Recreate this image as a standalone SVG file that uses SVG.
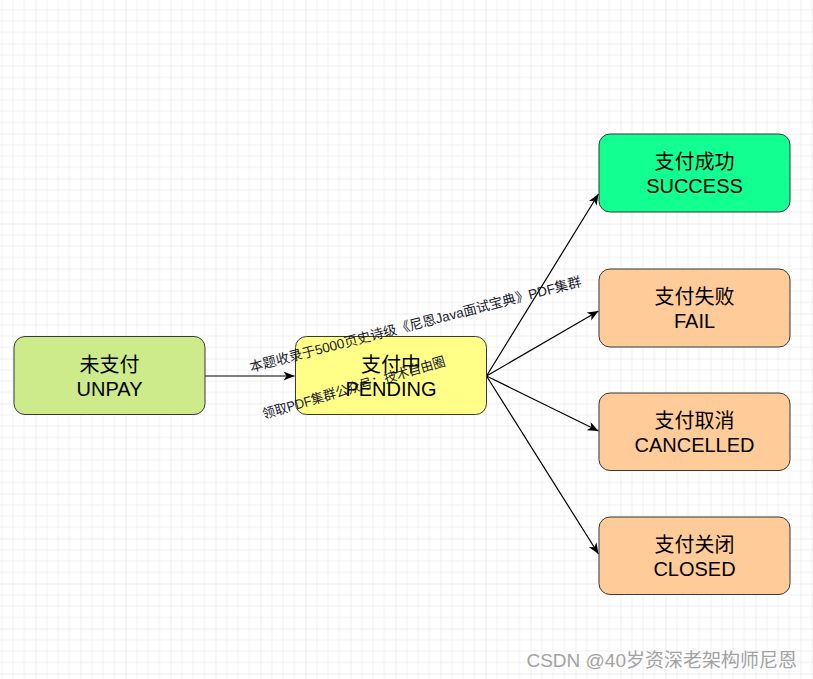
<svg xmlns="http://www.w3.org/2000/svg" width="813" height="679" viewBox="0 0 813 679">
<defs>
<pattern id="grid" patternUnits="userSpaceOnUse" x="-9.5" y="-1.5" width="45" height="45">
<path d="M11.25 0V45M22.5 0V45M33.75 0V45M0 11.25H45M0 22.5H45M0 33.75H45" stroke="#f0f0f0" stroke-width="1" fill="none"/>
<path d="M0 0V45M0 0H45" stroke="#dedede" stroke-width="1" fill="none"/>
</pattern>
<marker id="arr" markerUnits="userSpaceOnUse" markerWidth="12" markerHeight="10" refX="11" refY="4.5" orient="auto">
<path d="M0,0 L11,4.5 L0,9 L3,4.5 Z" fill="#000"/>
</marker>
</defs>
<style>
.node rect{stroke:#36393d;stroke-width:1}
.node text{font-family:"Liberation Sans","Noto Sans CJK SC",sans-serif;font-size:20px;fill:#000;text-anchor:middle}
.edge{stroke:#000;stroke-width:1.2;fill:none;marker-end:url(#arr)}
.wm{font-family:"Liberation Sans","Noto Sans CJK SC",sans-serif;font-size:13.5px;fill:#1a1a2e}
</style>
<rect width="813" height="679" fill="#fff"/>
<rect width="813" height="679" fill="url(#grid)"/>
<g id="connectors">
<path class="edge" d="M205 376H294.5"/>
<path class="edge" d="M486.5 376L598.5 194"/>
<path class="edge" d="M486.5 376L598.5 311"/>
<path class="edge" d="M486.5 376L598.5 431"/>
<path class="edge" d="M486.5 376L598.5 554"/>
</g>
<g id="unpay" class="node">
<rect x="14" y="336.5" width="191" height="78" rx="11" fill="#cdeb8b"/>
<text x="109.5" y="372">未支付</text>
<text x="109.5" y="396">UNPAY</text>
</g>
<g id="pending" class="node">
<rect x="295.5" y="336.5" width="191" height="78" rx="11" fill="#ffff88"/>
<text x="391" y="372">支付中</text>
<text x="391" y="396">PENDING</text>
</g>
<g id="success" class="node">
<rect x="599" y="134" width="191" height="78" rx="11" fill="#12ff92"/>
<text x="694.5" y="169">支付成功</text>
<text x="694.5" y="193">SUCCESS</text>
</g>
<g id="fail" class="node">
<rect x="599" y="269" width="191" height="78" rx="11" fill="#ffcc99"/>
<text x="694.5" y="304">支付失败</text>
<text x="694.5" y="328">FAIL</text>
</g>
<g id="cancelled" class="node">
<rect x="599" y="393" width="191" height="77.5" rx="11" fill="#ffcc99"/>
<text x="694.5" y="428">支付取消</text>
<text x="694.5" y="452">CANCELLED</text>
</g>
<g id="closed" class="node">
<rect x="599" y="517" width="191" height="77.5" rx="11" fill="#ffcc99"/>
<text x="694.5" y="552">支付关闭</text>
<text x="694.5" y="576">CLOSED</text>
</g>
<text class="wm" transform="translate(251 372) rotate(-14.6)">本题收录于5000页史诗级《尼恩Java面试宝典》PDF集群</text>
<text class="wm" transform="translate(264 419) rotate(-16.4)" textLength="190" lengthAdjust="spacingAndGlyphs">领取PDF集群公众号：技术自由圈</text>
<text x="797" y="667" text-anchor="end" style="font-family:'Liberation Sans','Noto Sans CJK SC',sans-serif;font-size:19px;fill:#a3a3a3">CSDN @40岁资深老架构师尼恩</text>
</svg>
